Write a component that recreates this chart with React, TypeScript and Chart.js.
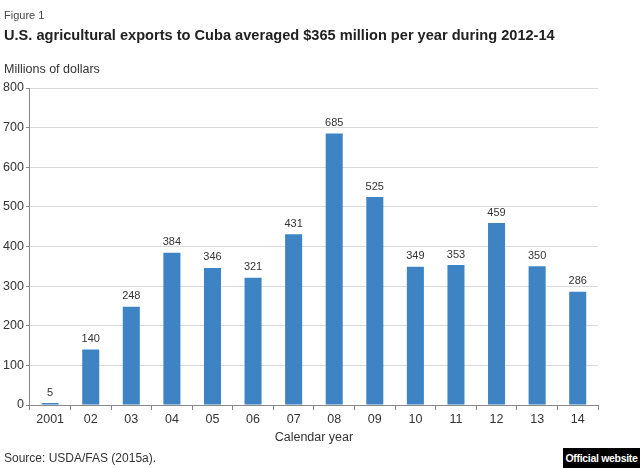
import React, { useEffect, useRef } from "react";
import { Chart, registerables } from "chart.js";

Chart.register(...registerables);

const categories = ["2001", "02", "03", "04", "05", "06", "07", "08", "09", "10", "11", "12", "13", "14"];
const exportsValues = [5, 140, 248, 384, 346, 321, 431, 685, 525, 349, 353, 459, 350, 286];
const yTicks = [0, 100, 200, 300, 400, 500, 600, 700, 800];

const FONT = "'Liberation Sans', Arial, Helvetica, sans-serif";

const valueLabels = {
  id: "valueLabels",
  afterDatasetsDraw(chart: any) {
    const ctx = chart.ctx;
    const meta = chart.getDatasetMeta(0);
    ctx.save();
    ctx.font = `11px ${FONT}`;
    ctx.fillStyle = "#333";
    ctx.textAlign = "center";
    ctx.textBaseline = "bottom";
    meta.data.forEach((bar: any, i: number) => {
      ctx.fillText(String(exportsValues[i]), bar.x, bar.y - 5);
    });
    ctx.restore();
  },
};

export default function App() {
  const ref = useRef<HTMLCanvasElement>(null);
  useEffect(() => {
    const chart = new Chart(ref.current!, {
      type: "bar",
      data: {
        labels: categories,
        datasets: [
          {
            data: exportsValues,
            backgroundColor: "#3e84c5",
            barPercentage: 0.42,
            categoryPercentage: 1,
          },
        ],
      },
      options: {
        responsive: false,
        animation: false,
        layout: { padding: { top: 88, left: 1, right: 42, bottom: 23 } },
        plugins: { legend: { display: false }, tooltip: { enabled: false } },
        scales: {
          x: {
            grid: {
              display: true,
              drawOnChartArea: false,
              drawTicks: true,
              tickLength: 5,
              color: "#888",
              offset: true,
            },
            border: { color: "#888", width: 1 },
            ticks: { color: "#333", font: { family: FONT, size: 12.5 }, padding: 2 },
            title: {
              display: true,
              text: "Calendar year",
              color: "#333",
              font: { family: FONT, size: 12.5 },
              padding: { top: 1, bottom: 0 },
            },
          },
          y: {
            min: 0,
            max: 800,
            afterBuildTicks: (s: any) => {
              s.ticks = yTicks.map((v) => ({ value: v }));
            },
            grid: {
              color: "#d9d9d9",
              tickLength: 4,
              tickColor: "#888",
              drawTicks: true,
            },
            border: { color: "#888", width: 1 },
            ticks: { color: "#333", font: { family: FONT, size: 12.5 }, padding: 2 },
          },
        },
      },
      plugins: [valueLabels],
    });
    return () => chart.destroy();
  }, []);

  return (
    <div style={{ position: "fixed", left: 0, top: 0, width: 640, height: 468, background: "#fff", overflow: "hidden", fontFamily: FONT }}>
      <canvas ref={ref} width={640} height={468} style={{ position: "absolute", left: 0, top: 0 }} />
      <div style={{ position: "absolute", left: 4, top: 9, fontSize: 11, color: "#444", whiteSpace: "nowrap" }}>Figure 1</div>
      <div style={{ position: "absolute", left: 4, top: 27, fontSize: 14.6, fontWeight: "bold", color: "#222", whiteSpace: "nowrap" }}>
        U.S. agricultural exports to Cuba averaged $365 million per year during 2012-14
      </div>
      <div style={{ position: "absolute", left: 4, top: 62, fontSize: 12.5, color: "#333", whiteSpace: "nowrap" }}>Millions of dollars</div>
      <div style={{ position: "absolute", left: 4, top: 451, fontSize: 12, color: "#333", whiteSpace: "nowrap" }}>Source: USDA/FAS (2015a).</div>
      <div style={{ position: "absolute", left: 563, top: 448, width: 77, height: 20, background: "#000", color: "#fff", fontSize: 10.5, fontWeight: "bold", lineHeight: "20px", textAlign: "center", whiteSpace: "nowrap", letterSpacing: -0.3 }}>
        Official website
      </div>
    </div>
  );
}
